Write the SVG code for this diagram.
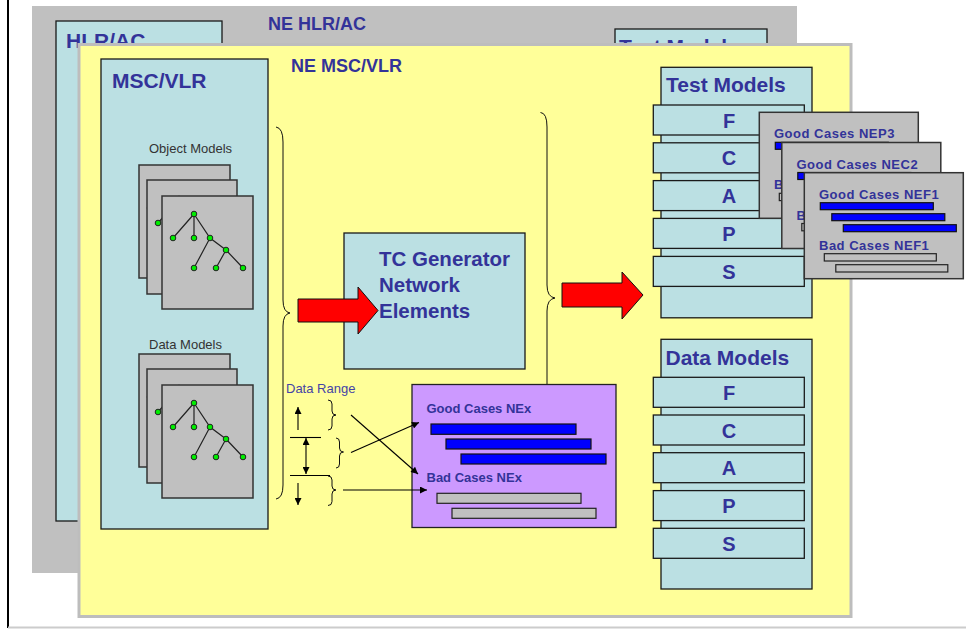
<svg xmlns="http://www.w3.org/2000/svg" xmlns:xlink="http://www.w3.org/1999/xlink" width="966" height="629" viewBox="0 0 966 629">
<style>
.box{fill:#BBE0E3;stroke:#1a1a1a;stroke-width:1.3}
.page{fill:#C0C0C0;stroke:#333;stroke-width:1.5}
.t{font-family:"Liberation Sans",Arial,sans-serif;font-weight:bold;fill:#333399}
.big{font-size:21px}
.ne{font-size:18px}
.row{font-size:20px;text-anchor:middle}
.sm{font-size:13px}
.lbl{font-family:"Liberation Sans",Arial,sans-serif;font-size:13px;fill:#333}
.blue{fill:#0000FF;stroke:#111;stroke-width:1.2}
.gbar{fill:#C0C0C0;stroke:#222;stroke-width:1.2}
.card{fill:#C0C0C0;stroke:#333;stroke-width:1.5}
.edge{stroke:#222;stroke-width:1.2;fill:none}
.node{fill:#00EE00;stroke:#222;stroke-width:1}
.brace{fill:none;stroke:#111;stroke-width:1}
.ln{stroke:#000;stroke-width:1.1;fill:none}
.red{fill:#FF0000;stroke:#111;stroke-width:1}
</style>
<defs>
<marker id="ah" viewBox="0 0 10 10" refX="10" refY="5" markerWidth="9" markerHeight="7" markerUnits="userSpaceOnUse" orient="auto">
<path d="M0,0 L10,5 L0,10 z" fill="#000"/>
</marker>
<marker id="ahs" viewBox="0 0 10 10" refX="10" refY="5" markerWidth="9" markerHeight="7" markerUnits="userSpaceOnUse" orient="auto-start-reverse">
<path d="M0,0 L10,5 L0,10 z" fill="#000"/>
</marker>
<g id="tree">
<path class="edge" d="M0,0 L-21,24 M0,0 L0,24 M0,0 L16,24 L32,36 M16,24 L0,54 M32,36 L22,54 M32,36 L49,54"/>
<circle class="node" cx="0" cy="0" r="2.8"/>
<circle class="node" cx="-21" cy="24" r="2.8"/>
<circle class="node" cx="0" cy="24" r="2.8"/>
<circle class="node" cx="16" cy="24" r="2.8"/>
<circle class="node" cx="32" cy="36" r="2.8"/>
<circle class="node" cx="0" cy="54" r="2.8"/>
<circle class="node" cx="22" cy="54" r="2.8"/>
<circle class="node" cx="49" cy="54" r="2.8"/>
</g>
<g id="card">
<rect class="card" x="0" y="0" width="159" height="106"/>
<rect class="blue" x="16" y="30" width="113" height="7"/>
<rect class="blue" x="27.5" y="41" width="113" height="7"/>
<rect class="blue" x="39" y="52" width="113" height="7"/>
<rect class="gbar" x="20" y="81" width="112" height="7.3"/>
<rect class="gbar" x="31.5" y="92" width="112" height="7.3"/>
</g>
</defs>

<rect x="0" y="0" width="966" height="629" fill="#fff"/>
<line x1="8" y1="0" x2="8" y2="628" stroke="#000" stroke-width="2"/>
<line x1="8" y1="627.5" x2="966" y2="627.5" stroke="#ccc" stroke-width="2"/>

<g id="ne-hlr">
<rect x="32" y="6" width="765" height="567" fill="#C0C0C0"/>
<text class="t ne" x="268" y="30">NE HLR/AC</text>
<rect class="box" x="56" y="21" width="166" height="500"/>
<text class="t big" x="66" y="48">HLR/AC</text>
<rect class="box" x="615" y="29" width="152" height="250"/>
<text class="t big" x="619" y="54">Test Models</text>
</g>

<g id="ne-msc">
<rect x="79" y="44.5" width="772" height="572" fill="#FFFF99" stroke="#BDBDBD" stroke-width="3"/>
<text class="t ne" x="291" y="72">NE MSC/VLR</text>
</g>

<g id="msc-vlr">
<rect class="box" x="101" y="59" width="167" height="470"/>
<text class="t big" x="112" y="88">MSC/VLR</text>
</g>

<g id="object-models">
<text class="lbl" x="149" y="153">Object Models</text>
<rect class="page" x="139" y="165" width="91" height="113"/>
<use xlink:href="#tree" x="171" y="184"/>
<rect class="page" x="147" y="180" width="90" height="114"/>
<use xlink:href="#tree" x="179" y="199"/>
<rect class="page" x="162" y="196" width="91" height="113"/>
<use xlink:href="#tree" x="194" y="214"/>
</g>

<g id="data-models-left">
<text class="lbl" x="149" y="349">Data Models</text>
<rect class="page" x="139" y="354" width="91" height="113"/>
<use xlink:href="#tree" x="171" y="373"/>
<rect class="page" x="147" y="369" width="90" height="114"/>
<use xlink:href="#tree" x="179" y="388"/>
<rect class="page" x="162" y="385" width="91" height="113"/>
<use xlink:href="#tree" x="194" y="403"/>
</g>

<g id="tc-generator">
<rect class="box" x="344" y="233" width="181" height="136"/>
<text class="t" font-size="20.5" x="379" y="266">TC Generator</text>
<text class="t" font-size="20.5" x="379" y="292">Network</text>
<text class="t" font-size="20.5" x="379" y="318">Elements</text>
</g>

<g id="data-range">
<text x="286" y="392.5" font-family="Liberation Sans, Arial, sans-serif" font-size="13" fill="#4444A6">Data Range</text>
</g>

<g id="cases-nex">
<rect x="412" y="384.5" width="204" height="143" fill="#CC99FF" stroke="#222" stroke-width="1.3"/>
<text class="t sm" x="426.5" y="412.5">Good Cases NEx</text>
<rect class="blue" x="431" y="424" width="145" height="10.3"/>
<rect class="blue" x="446" y="439" width="145" height="10"/>
<rect class="blue" x="461" y="454" width="145" height="10"/>
<text class="t sm" x="426.5" y="481.5">Bad Cases NEx</text>
<rect class="gbar" x="437" y="493.3" width="144" height="10"/>
<rect class="gbar" x="452" y="508.3" width="144" height="10"/>
</g>

<g id="connectors">
<path class="brace" d="M276,127 Q283,128 283,142 L283,300 Q283,312 290,313 Q283,314 283,326 L283,485 Q283,498 276,499"/>
<path class="brace" d="M540.5,112.5 Q547,113 547,127 L547,285 Q547,297 555,298 Q547,299 547,311 L547,384"/>
<path class="red" d="M298,299 L358,299 L358,287 L378,310.5 L358,334 L358,322 L298,322 z"/>
<path class="red" d="M562,283 L622,283 L622,272 L643,295 L622,319 L622,307 L562,307 z"/>
<line class="ln" x1="298" y1="430" x2="298" y2="407" marker-end="url(#ah)"/>
<line class="ln" x1="290" y1="437.5" x2="321" y2="437.5"/>
<line class="ln" x1="306" y1="438" x2="306" y2="474" marker-start="url(#ahs)" marker-end="url(#ah)"/>
<line class="ln" x1="290" y1="475.5" x2="330" y2="475.5"/>
<line class="ln" x1="298" y1="483" x2="298" y2="505" marker-end="url(#ah)"/>
<path class="brace" d="M328,400 Q332,400 332,404 L332,411 Q332,415 336,415 Q332,415 332,419 L332,426 Q332,430 328,430"/>
<path class="brace" d="M336,438 Q339.5,438 339.5,442 L339.5,448 Q339.5,452 343.5,452 Q339.5,452 339.5,456 L339.5,464 Q339.5,468 336,468"/>
<path class="brace" d="M328,476 Q332,476 332,480 L332,486 Q332,490 336,490 Q332,490 332,494 L332,501.5 Q332,505.5 328,505.5"/>
<line class="ln" x1="351" y1="415" x2="418" y2="474" marker-end="url(#ah)"/>
<line class="ln" x1="351" y1="452.5" x2="419" y2="422.5" marker-end="url(#ah)"/>
<line class="ln" x1="343" y1="490" x2="427" y2="490" marker-end="url(#ah)"/>
</g>

<g id="test-models">
<rect class="box" x="661" y="67.3" width="151" height="250.5"/>
<text class="t big" x="666" y="92.3">Test Models</text>
<rect class="box" x="653.3" y="105" width="151" height="30"/>
<text class="t row" x="729" y="127.5">F</text>
<rect class="box" x="653.3" y="142.8" width="151" height="30"/>
<text class="t row" x="729" y="165.3">C</text>
<rect class="box" x="653.3" y="180.6" width="151" height="30"/>
<text class="t row" x="729" y="203.1">A</text>
<rect class="box" x="653.3" y="218.4" width="151" height="30"/>
<text class="t row" x="729" y="240.9">P</text>
<rect class="box" x="653.3" y="256.4" width="151" height="30"/>
<text class="t row" x="729" y="278.9">S</text>
</g>

<g id="card-nep3">
<use xlink:href="#card" x="759.3" y="112.3"/>
<text class="t sm" letter-spacing="0.5" x="774" y="138">Good Cases NEP3</text>
<text class="t sm" x="774" y="189">B</text>
</g>
<g id="card-nec2">
<use xlink:href="#card" x="781.8" y="142.5"/>
<text class="t sm" letter-spacing="0.5" x="796.5" y="168.5">Good Cases NEC2</text>
<text class="t sm" x="796.5" y="219.5">B</text>
</g>
<g id="card-nef1">
<use xlink:href="#card" x="804.3" y="172.7"/>
<text class="t sm" letter-spacing="0.5" x="819" y="199">Good Cases NEF1</text>
<text class="t sm" letter-spacing="0.5" x="819" y="250">Bad Cases NEF1</text>
</g>

<g id="data-models">
<rect class="box" x="661" y="339.3" width="151" height="249.7"/>
<text class="t big" x="665.5" y="365">Data Models</text>
<rect class="box" x="653.3" y="377.3" width="151" height="30"/>
<text class="t row" x="729" y="400">F</text>
<rect class="box" x="653.3" y="415" width="151" height="30"/>
<text class="t row" x="729" y="437.7">C</text>
<rect class="box" x="653.3" y="452.7" width="151" height="30"/>
<text class="t row" x="729" y="475.4">A</text>
<rect class="box" x="653.3" y="490.6" width="151" height="30"/>
<text class="t row" x="729" y="513.3">P</text>
<rect class="box" x="653.3" y="528.3" width="151" height="30"/>
<text class="t row" x="729" y="551">S</text>
</g>
</svg>
